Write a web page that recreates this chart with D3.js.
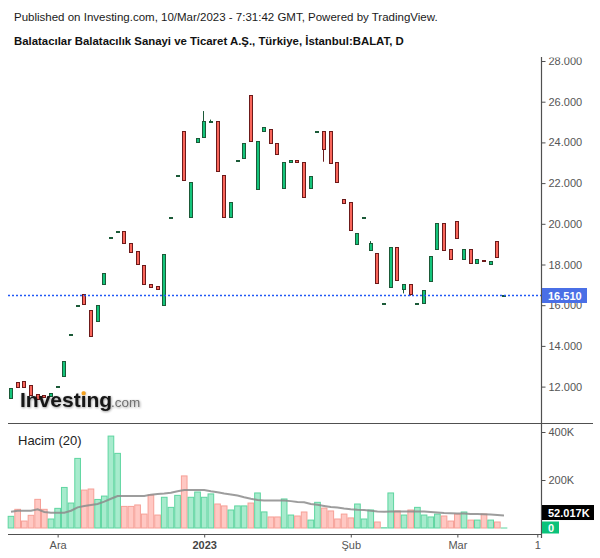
<!DOCTYPE html>
<html><head><meta charset="utf-8">
<script src="https://cdn.jsdelivr.net/npm/d3@7"></script>
<style>
body{margin:0;background:#fff}
svg{display:block}
text{font-family:"Liberation Sans",Arial,sans-serif}
</style>
</head><body>
<svg id="c" width="600" height="558"></svg>
<script>
// ---------- DATA ----------
const dates = [
 "2022-11-22","2022-11-23","2022-11-24","2022-11-25","2022-11-28","2022-11-29","2022-11-30",
 "2022-12-01","2022-12-02","2022-12-05","2022-12-06","2022-12-07","2022-12-08","2022-12-09",
 "2022-12-12","2022-12-13","2022-12-14","2022-12-15","2022-12-16","2022-12-19","2022-12-20",
 "2022-12-21","2022-12-22","2022-12-23","2022-12-26","2022-12-27","2022-12-28","2022-12-29","2022-12-30",
 "2023-01-02","2023-01-03","2023-01-04","2023-01-05","2023-01-06","2023-01-09","2023-01-10",
 "2023-01-11","2023-01-12","2023-01-13","2023-01-16","2023-01-17","2023-01-18","2023-01-19",
 "2023-01-20","2023-01-23","2023-01-24","2023-01-25","2023-01-26","2023-01-27","2023-01-30","2023-01-31",
 "2023-02-01","2023-02-02","2023-02-03","2023-02-06","2023-02-07","2023-02-14","2023-02-15",
 "2023-02-16","2023-02-17","2023-02-20","2023-02-21","2023-02-22","2023-02-23","2023-02-24",
 "2023-02-27","2023-02-28",
 "2023-03-01","2023-03-02","2023-03-03","2023-03-06","2023-03-07","2023-03-08","2023-03-09","2023-03-10"
];
const open = [
 11.44,12.21,12.26,12.06,11.62,11.58,11.54,12.04,12.54,14.57,
 16.00,16.54,15.76,15.21,17.03,19.35,19.65,19.65,19.06,18.66,
 17.98,17.04,16.94,16.03,20.32,22.38,24.55,20.32,24.00,24.25,
 25.04,25.04,22.38,20.32,23.12,23.22,26.31,21.70,24.55,24.64,
 23.96,21.74,23.02,23.12,23.02,21.74,24.55,24.55,24.55,23.02,
 21.20,21.07,19.02,20.35,18.73,18.55,16.09,16.91,18.86,16.81,
 17.04,16.12,16.12,17.21,18.78,20.03,18.75,20.14,18.29,18.75,
 18.09,18.23,18.04,19.14,16.51
];
const close = [
 11.93,11.96,11.96,11.59,11.40,11.50,11.67,12.04,13.24,14.57,
 16.00,16.04,14.50,16.00,17.57,19.35,19.65,19.04,18.60,18.04,
 17.06,16.91,16.81,18.52,20.32,22.38,22.14,22.04,24.20,25.04,
 25.04,22.58,20.32,21.06,23.12,23.96,24.05,24.05,24.74,23.96,
 23.42,23.02,23.12,23.02,21.33,22.35,24.55,23.69,23.00,22.07,
 21.04,19.71,19.53,20.35,19.04,17.11,16.09,18.86,17.25,17.04,
 16.55,16.12,16.75,18.42,20.03,18.73,18.29,19.32,18.75,18.09,
 18.26,18.21,18.16,18.38,16.51
];
const high = [
 11.93,12.21,12.26,12.06,11.62,11.58,11.67,12.04,13.24,14.57,
 16.00,16.54,15.76,16.00,17.57,19.35,19.65,19.65,19.06,18.66,
 17.98,17.04,16.94,18.52,20.32,22.38,24.55,22.04,24.20,25.54,
 25.12,25.04,22.38,21.06,23.12,23.96,26.31,24.05,24.74,24.64,
 23.96,23.02,23.12,23.12,23.02,22.35,24.55,24.55,24.55,23.02,
 21.20,21.07,19.53,20.35,19.15,18.55,16.09,18.86,18.86,17.04,
 17.04,16.12,16.75,18.42,20.03,20.03,18.75,20.14,18.75,18.75,
 18.26,18.23,18.16,19.14,16.51
];
const low = [
 11.44,11.96,11.96,11.59,11.40,11.50,11.54,12.04,12.54,14.57,
 16.00,16.04,14.45,15.21,17.03,19.35,19.65,19.04,18.60,18.04,
 17.06,16.91,16.81,16.03,20.32,22.38,22.14,20.32,24.00,24.25,
 25.04,22.58,20.32,20.32,23.12,23.22,24.05,21.70,24.55,23.96,
 23.42,21.74,23.02,23.02,21.33,21.74,24.55,23.05,23.00,22.07,
 21.04,19.71,19.02,20.35,18.73,17.11,16.09,16.91,17.25,16.58,
 16.47,16.12,16.12,17.21,18.78,18.73,18.29,19.32,18.29,18.09,
 18.09,18.21,18.04,18.38,16.51
];
const volume = [
 48600,77800,29000,52800,119400,77800,37500,81900,169000,104000,
 290000,158000,162500,119000,133000,383000,311000,90000,90000,96000,
 58000,137500,54000,128000,86000,136000,217000,128000,150000,128000,
 142000,100000,92000,75000,92000,92000,104000,146000,67000,46000,
 46000,121000,54000,50000,66700,33000,107000,83000,71000,37500,
 58000,42000,100000,37500,75000,25000,1000,146000,71000,54000,
 75000,86000,54000,46000,58000,50000,29000,58000,66700,33000,
 33000,58000,33000,25000,0
];
const volumeMA = [
 68000,72000,72000,72000,78000,67000,64000,64000,64000,72000,
 86000,92000,96000,100000,110000,122000,133000,133000,133000,133000,
 133000,139000,142000,144000,147000,153000,158000,158000,158000,158000,
 153000,149000,144000,140000,135000,128000,122000,117000,115000,115000,
 115000,115000,112000,108000,107000,100000,97000,92000,87500,85000,
 81000,78000,76000,75000,72000,69000,68000,69000,69000,69000,
 69000,69000,69000,67000,65000,62500,61000,60000,60000,58000,
 58000,57000,56000,54000,52017
];
const priceTicks = [12,14,16,18,20,22,24,26,28];
const volumeTicks = [200000,400000];
const xTickDates = ["2022-12-01","2023-01-02","2023-02-01","2023-03-01","2023-03-17"];
const xTickLabels = ["Ara","2023","Şub","Mar","17"];
const lastPrice = 16.51;
const lastMA = 52017;
const lastVolume = 0;
const title1 = "Published on Investing.com, 10/Mar/2023 - 7:31:42 GMT, Powered by TradingView.";
const title2 = "Balatacılar Balatacılık Sanayi ve Ticaret A.Ş., Türkiye, İstanbul:BALAT, D";
const volTitle = "Hacim (20)";

// ---------- LAYOUT ----------
const svg = d3.select("#c");
const axisX = 541;
const x = d3.scaleLinear().domain([0, dates.length - 1]).range([11, 504]);
const yP = d3.scaleLinear().domain([12, 28]).range([386.6, 61]);
const yV = d3.scaleLinear().domain([0, 400000]).range([528, 432]);

const UP_FILL = "#14c47b", UP_LINE = "#1b5a38";
const DN_FILL = "#f9665b", DN_LINE = "#6c1a1a";
const VUP_FILL = "#a7ebcd", VUP_LINE = "#5ed5a0";
const VDN_FILL = "#ffc8c3", VDN_LINE = "#f6a097";

const defs = svg.append("defs");
defs.append("clipPath").attr("id","axclip").attr("clipPathUnits","userSpaceOnUse")
  .append("rect").attr("x",0).attr("y",0).attr("width",axisX).attr("height",558);
defs.append("clipPath").attr("id","raxclip").attr("clipPathUnits","userSpaceOnUse")
  .append("rect").attr("x",axisX).attr("y",57.5).attr("width",70).attr("height",500);
const shadow = defs.append("filter").attr("id","sh").attr("x","-10%").attr("y","-20%").attr("width","120%").attr("height","150%");
shadow.append("feDropShadow").attr("dx",0.6).attr("dy",0.8).attr("stdDeviation",0.9).attr("flood-color","#000").attr("flood-opacity",0.45);

// titles
svg.append("text").attr("x",14).attr("y",21).attr("font-size",11.5).attr("fill","#1a1a1a").text(title1);
svg.append("text").attr("x",14).attr("y",44.5).attr("font-size",11.4).attr("font-weight","bold").attr("fill","#111").text(title2);

// ---------- VOLUME ----------
const vg = svg.append("g");
const step = x(1) - x(0);
dates.forEach((d,i) => {
  const up = close[i] >= open[i];
  const top = yV(volume[i]);
  vg.append("rect")
    .attr("x", x(i) - step/2 + 0.5)
    .attr("y", top)
    .attr("width", step - 1)
    .attr("height", Math.max(0.01, yV(0) - top))
    .attr("fill", up ? VUP_FILL : VDN_FILL)
    .attr("stroke", up ? VUP_LINE : VDN_LINE)
    .attr("stroke-width", 1);
});
vg.append("path")
  .datum(volumeMA)
  .attr("d", d3.line().x((v,i) => x(i)).y(v => yV(v)))
  .attr("fill","none").attr("stroke","#8c8c8c").attr("stroke-width",2).attr("stroke-opacity",0.85);

svg.append("text").attr("x",18).attr("y",445).attr("font-size",13).attr("fill","#222").text(volTitle);

// ---------- CANDLES ----------
const cg = svg.append("g");
dates.forEach((d,i) => {
  const up = close[i] >= open[i];
  const cx = Math.round(x(i));
  const line = up ? UP_LINE : DN_LINE;
  const hi = yP(high[i]), lo = yP(low[i]);
  const top = Math.round(yP(Math.max(open[i], close[i]))) + 0.5;
  const bot = Math.round(yP(Math.min(open[i], close[i]))) + 0.5;
  if (lo - hi > (bot - top) + 1) {
    cg.append("line").attr("x1",cx-0.5).attr("x2",cx-0.5).attr("y1",hi).attr("y2",lo)
      .attr("stroke",line).attr("stroke-width",1);
  }
  cg.append("rect")
    .attr("x", cx - 1.5).attr("y", top)
    .attr("width", 3).attr("height", Math.max(1, bot - top))
    .attr("fill", up ? UP_FILL : DN_FILL)
    .attr("stroke", line).attr("stroke-width", 1);
});

// last price line
const lpy = Math.round(yP(lastPrice)) + 0.5;
svg.append("line").attr("x1",8).attr("x2",axisX).attr("y1",lpy).attr("y2",lpy)
  .attr("stroke","#2158f5").attr("stroke-width",1.3).attr("stroke-dasharray","2,2");

// ---------- LOGO ----------
const logo = svg.append("g").attr("filter","url(#sh)");
logo.append("text").attr("x",20).attr("y",407).attr("font-size",21).attr("font-weight","bold").attr("fill","#151515").text("Investing");
logo.append("text").attr("x",111).attr("y",407).attr("font-size",13.5).attr("fill","#6f6f6f").text(".com");
svg.append("rect").attr("x",81.6).attr("y",391.3).attr("width",4).attr("height",4).attr("rx",1.5).attr("fill","#f5a21f");

// ---------- FRAME ----------
svg.append("line").attr("x1",8).attr("x2",593).attr("y1",423.5).attr("y2",423.5).attr("stroke","#505050").attr("stroke-width",1.2);
svg.append("line").attr("x1",8).attr("x2",axisX+0.5).attr("y1",534.5).attr("y2",534.5).attr("stroke","#505050").attr("stroke-width",1.2);
svg.append("line").attr("x1",axisX+0.5).attr("x2",axisX+0.5).attr("y1",57).attr("y2",538).attr("stroke","#505050").attr("stroke-width",1.2);

// ---------- AXES ----------
function styleAxis(g){
  g.select(".domain").remove();
  g.selectAll(".tick line").attr("stroke","#505050");
  g.selectAll(".tick text").attr("fill","#555").attr("font-size",11).attr("font-family",'"Liberation Sans",Arial,sans-serif');
}
const pWrap = svg.append("g").attr("clip-path","url(#raxclip)");
const pAxis = pWrap.append("g").attr("transform",`translate(${axisX+0.5},0)`)
  .call(d3.axisRight(yP).tickValues(priceTicks).tickFormat(d3.format(".3f")).tickSize(4).tickPadding(3));
styleAxis(pAxis);

const vAxis = svg.append("g").attr("transform",`translate(${axisX+0.5},0)`)
  .call(d3.axisRight(yV).tickValues(volumeTicks).tickFormat(d => (d/1000) + "K").tickSize(4).tickPadding(3));
styleAxis(vAxis);

function dateIndex(d){
  let k = dates.indexOf(d);
  if (k >= 0) return k;
  // future business day beyond the data
  let t = new Date(dates[dates.length-1] + "T00:00:00Z"), target = new Date(d + "T00:00:00Z");
  k = dates.length - 1;
  while (t < target){ t = new Date(t.getTime() + 86400000); const wd = t.getUTCDay(); if (wd !== 0 && wd !== 6) k++; }
  return k;
}
const xIdx = xTickDates.map(dateIndex);
const xWrap = svg.append("g").attr("clip-path","url(#axclip)");
const xAxis = xWrap.append("g").attr("transform","translate(0,534.5)")
  .call(d3.axisBottom(x).tickValues(xIdx).tickFormat((v,i) => xTickLabels[i]).tickSize(3).tickPadding(4));
styleAxis(xAxis);
xAxis.selectAll(".tick text").filter((v,i) => /^\d{4}$/.test(xTickLabels[i]))
  .attr("font-weight","bold").attr("fill","#444");
xAxis.selectAll(".tick text").filter((v,i) => v > dates.length - 1).attr("dx", 3);

// ---------- VALUE LABELS ----------
const ly = lpy;
svg.append("rect").attr("x",axisX+1).attr("y",ly-7.5).attr("width",45).attr("height",15).attr("fill","#4a6fe6");
svg.append("text").attr("x",548).attr("y",ly+4).attr("font-size",11).attr("font-weight","bold").attr("fill","#fff").text(d3.format(".3f")(lastPrice));

const my = yV(lastMA) - 3;
svg.append("rect").attr("x",axisX+1).attr("y",my-7.5).attr("width",52).attr("height",15).attr("fill","#000");
svg.append("text").attr("x",548).attr("y",my+4).attr("font-size",11).attr("font-weight","bold").attr("fill","#fff").text(d3.format(".3f")(lastMA/1000) + "K");

svg.append("rect").attr("x",axisX+1).attr("y",521.5).attr("width",17).attr("height",12).attr("fill","#0bc27a");
svg.append("text").attr("x",548).attr("y",531.5).attr("font-size",11).attr("font-weight","bold").attr("fill","#fff").text(String(lastVolume));
</script>
</body></html>
